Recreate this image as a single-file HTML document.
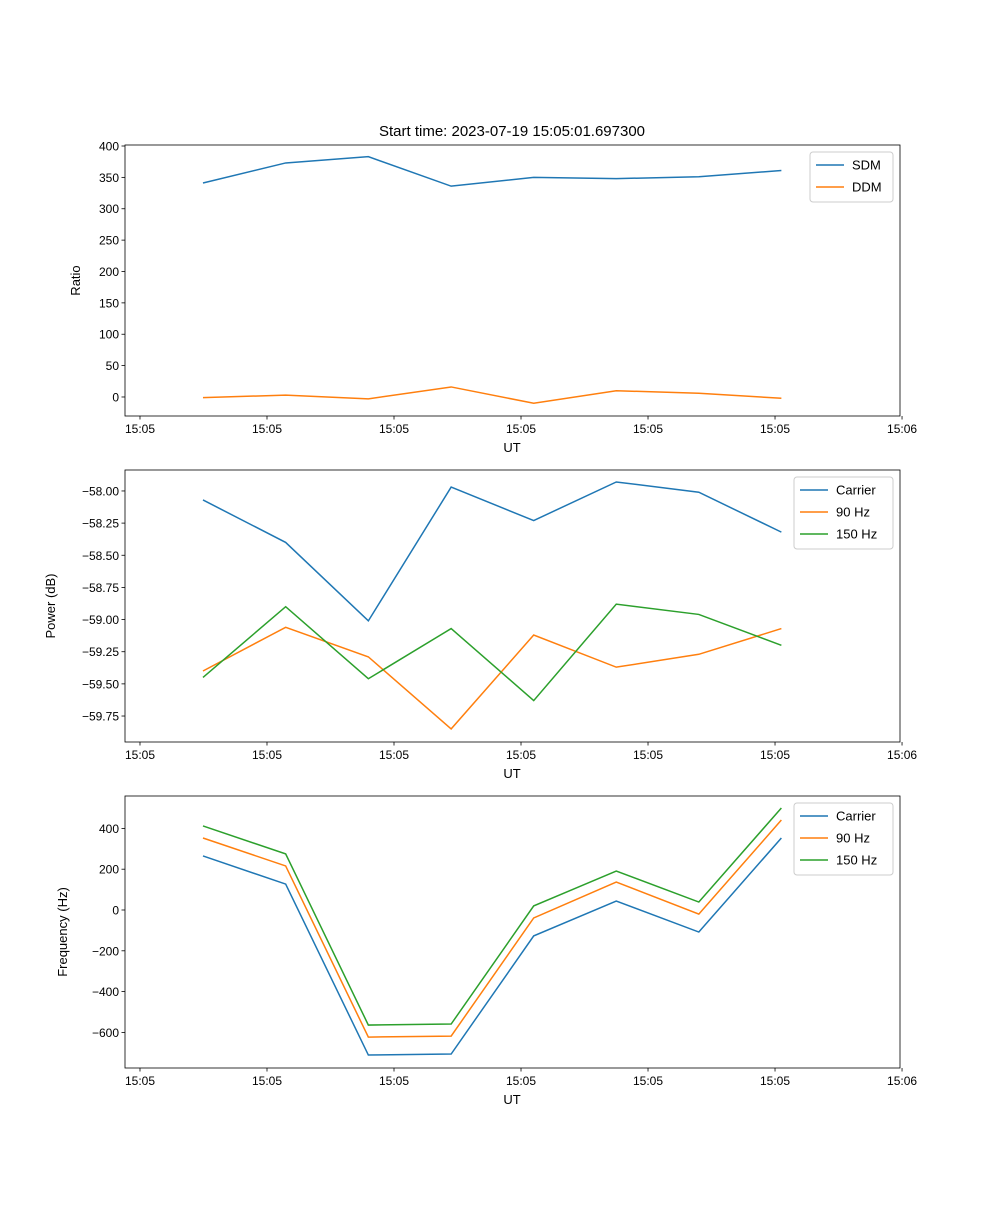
<!DOCTYPE html>
<html><head><meta charset="utf-8"><style>
body{margin:0;background:#fff}
svg{font-family:"Liberation Sans","DejaVu Sans",sans-serif}
</style></head><body>
<svg id="c" width="1000" height="1200" xmlns="http://www.w3.org/2000/svg"></svg>
<script>
const times=[4.96,11.47,17.98,24.5,31.0,37.5,44.0,50.5];
const xTicks=[0,10,20,30,40,50,60];
const xTickLabels=["15:05","15:05","15:05","15:05","15:05","15:05","15:06"];
const sdm=[341,373,383,336,350,348,351,361];
const ddm=[-1,3,-3,16,-10,10,6,-2];
const pCarrier=[-58.07,-58.40,-59.01,-57.97,-58.23,-57.93,-58.01,-58.32];
const p90=[-59.40,-59.06,-59.29,-59.85,-59.12,-59.37,-59.27,-59.07];
const p150=[-59.45,-58.90,-59.46,-59.07,-59.63,-58.88,-58.96,-59.20];
const fCarrier=[265,127,-711,-706,-127,44,-108,353];
const f90=[353,216,-623,-618,-39,137,-20,441];
const f150=[412,275,-564,-559,20,191,39,500];
const y1Ticks=[0,50,100,150,200,250,300,350,400];
const y2Ticks=[-59.75,-59.5,-59.25,-59.0,-58.75,-58.5,-58.25,-58.0];
const y3Ticks=[-600,-400,-200,0,200,400];
const C=['#1f77b4','#ff7f0e','#2ca02c'];
const svg=document.getElementById('c');
const NS='http://www.w3.org/2000/svg';
function mk(t,a,p){const e=document.createElementNS(NS,t);for(const k in a)e.setAttribute(k,a[k]);(p||svg).appendChild(e);return e;}
const L=125,R=900,x0=-1.18,x1=59.84;
const xs=t=>L+(t-x0)/(x1-x0)*(R-L);
function panel(name,top,bot,ymin,ymax,yt,fmt,series,names,ylabel,ylx,leg){
  const g=mk('g',{});
  
  
  const ys=v=>bot-(v-ymin)/(ymax-ymin)*(bot-top);
  series.forEach((s,k)=>{
    const p=mk('polyline',{points:s.map((v,i)=>xs(times[i])+','+ys(v)).join(' '),fill:'none',stroke:C[k],'stroke-width':1.5},g);
    
    
  });
  mk('rect',{x:L,y:top,width:R-L,height:bot-top,fill:'none',stroke:'#000','stroke-width':0.8},g);
  xTicks.forEach((t,i)=>{const x=xs(t);mk('line',{x1:x,x2:x,y1:bot,y2:bot+3.5,stroke:'#000','stroke-width':0.8},g);
    const tx=mk('text',{x:x,y:bot+17,'text-anchor':'middle','font-size':12},g);tx.textContent=xTickLabels[i];
    });
  yt.forEach(v=>{const y=ys(v);mk('line',{x1:L-3.5,x2:L,y1:y,y2:y,stroke:'#000','stroke-width':0.8},g);
    const tx=mk('text',{x:L-6,y:y+4.5,'text-anchor':'end','font-size':12},g);tx.textContent=fmt(v);
    });
  const xl=mk('text',{x:512,y:bot+36,'text-anchor':'middle','font-size':13},g);xl.textContent='UT';
  
  const my=(top+bot)/2;
  const yl=mk('text',{x:ylx,y:my,'text-anchor':'middle','font-size':13,transform:`rotate(-90 ${ylx} ${my})`},g);yl.textContent=ylabel;
  
  const lg=mk('g',{},g);
  
  mk('rect',{x:leg[0],y:leg[1],width:leg[2],height:names.length*22+6,rx:3,fill:'#fff','fill-opacity':0.8,stroke:'#ccc'},lg);
  names.forEach((n,k)=>{const y=leg[1]+13+k*22;
    mk('line',{x1:leg[0]+6,x2:leg[0]+34,y1:y,y2:y,stroke:C[k],'stroke-width':1.5},lg);
    const t=mk('text',{x:leg[0]+42,y:y+4.5,'font-size':13},lg);t.textContent=n;
    });
}
const minus=s=>s.replace('-','\u2212');
panel('ratio',145,416,-30.3,401.6,y1Ticks,v=>minus(String(v)),[sdm,ddm],['SDM','DDM'],'Ratio',80,[810,152,83]);
panel('power',470,742,-59.952,-57.837,y2Ticks,v=>minus(v.toFixed(2)),[pCarrier,p90,p150],['Carrier','90 Hz','150 Hz'],'Power (dB)',55,[794,477,99]);
panel('frequency',796,1068,-774.5,558.8,y3Ticks,v=>minus(String(v)),[fCarrier,f90,f150],['Carrier','90 Hz','150 Hz'],'Frequency (Hz)',67,[794,803,99]);
const tt=mk('text',{x:512,y:136,'text-anchor':'middle','font-size':15});
tt.textContent='Start time: 2023-07-19 15:05:01.697300';


</script>
</body></html>
